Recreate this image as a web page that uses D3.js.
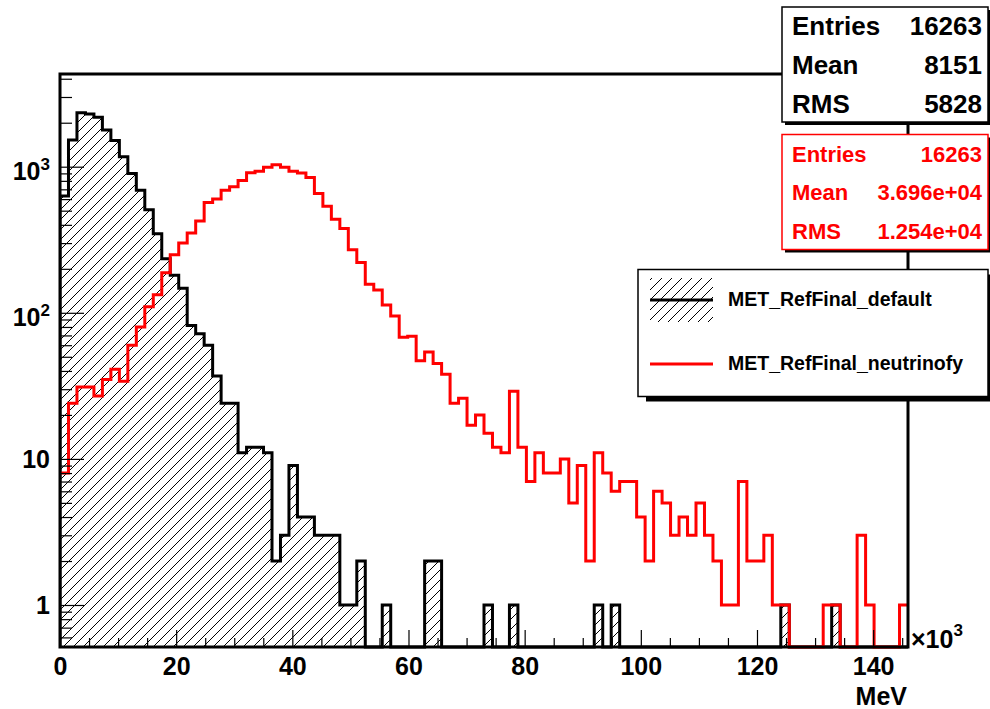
<!DOCTYPE html>
<html>
<head>
<meta charset="utf-8">
<script src="https://cdn.jsdelivr.net/npm/d3@7/dist/d3.min.js"></script>
<style>
    body { margin: 0; background: #fff; }
    text { font-family: "Liberation Sans", Arial, Helvetica, sans-serif; font-weight: bold; }
</style>
</head>
<body>
<script>
//---------------------------------------------------------------------------------------------------//
// data (100 bins from 0 to 146 x10^3 MeV)
let nBins = 100, xLow = 0, xHigh = 146;

let defaultCounts = [
    630, 1524, 2344, 2295, 2178, 1782, 1510, 1170, 900, 690,
    508, 348, 234, 181, 147, 82, 72, 60, 37, 24,
    24, 11, 12, 12, 11, 2, 3, 9, 4, 4,
    3, 3, 3, 1, 1, 2, 0, 0, 1, 0,
    0, 0, 0, 2, 2, 0, 0, 0, 0, 0,
    1, 0, 0, 1, 0, 0, 0, 0, 0, 0,
    0, 0, 0, 1, 0, 1, 0, 0, 0, 0,
    0, 0, 0, 0, 0, 0, 0, 0, 0, 0,
    0, 0, 0, 0, 0, 1, 0, 0, 0, 0,
    0, 1, 0, 0, 0, 0, 0, 0, 0, 0
];

let neutrinofyCounts = [
    8, 24, 31, 31, 27, 35, 41, 34, 60, 80,
    110, 133, 188, 250, 300, 352, 425, 568, 600, 690,
    729, 805, 910, 930, 992, 1030, 992, 930, 905, 845,
    655, 537, 436, 378, 270, 221, 157, 143, 113, 95,
    68, 69, 47, 54, 45, 38, 24, 26, 17, 20,
    15, 12, 11, 29, 12, 7, 11, 8, 8, 10,
    5, 9, 2, 11, 8, 6, 7, 7, 4, 2,
    6, 5, 3, 4, 3, 5, 3, 2, 1, 1,
    7, 2, 2, 3, 1, 1, 0, 0, 0, 0,
    1, 1, 0, 0, 3, 1, 0, 0, 0, 1
];

let xMajorTicks = [0, 20, 40, 60, 80, 100, 120, 140];
let xMinorTicks = [5, 10, 15, 25, 30, 35, 45, 50, 55, 65, 70, 75, 85, 90, 95, 105, 110, 115, 125, 130, 135, 145];
let yMajorTicks = [1, 10, 100, 1000];
let yTickBase = ["1", "10", "10", "10"];
let yTickExp = ["", "", "2", "3"];
let yMinorTicks = [0.6, 0.7, 0.8, 0.9, 2, 3, 4, 5, 6, 7, 8, 9, 20, 30, 40, 50, 60, 70, 80, 90,
                   200, 300, 400, 500, 600, 700, 800, 900, 2000, 3000, 4000];

let statsDefault = [["Entries", "16263"], ["Mean", "8151"], ["RMS", "5828"]];
let statsNeutrinofy = [["Entries", "16263"], ["Mean", "3.696e+04"], ["RMS", "1.254e+04"]];
let legendLabels = ["MET_RefFinal_default", "MET_RefFinal_neutrinofy"];

//---------------------------------------------------------------------------------------------------//
// frame + scales
let width = 990, height = 709;
let frameLeft = 60, frameRight = 908, frameTop = 74, frameBottom = 647;

let svg = d3.select('body').append('svg').attr('width', width).attr('height', height);

let x = d3.scaleLinear().domain([xLow, xHigh]).range([frameLeft, frameRight]);
let y = d3.scaleLog().domain([Math.pow(10, -0.2875), Math.pow(10, 3.6345)]).range([frameBottom, frameTop]);
let yv = v => v > 0 ? y(v) : frameBottom;   // empty bins sit on the axis

let defs = svg.append('defs');
let hatch = defs.append('pattern')
    .attr('id', 'hatch')
    .attr('patternUnits', 'userSpaceOnUse')
    .attr('width', 10)
    .attr('height', 10);
hatch.append('path')
    .attr('d', 'M0,10 L10,0 M-2,2 L2,-2 M8,12 L12,8')
    .attr('stroke', 'black')
    .attr('stroke-width', 1);

defs.append('clipPath').attr('id', 'frameClip')
    .append('rect')
    .attr('x', frameLeft).attr('y', frameTop)
    .attr('width', frameRight - frameLeft).attr('height', frameBottom - frameTop + 2);

//---------------------------------------------------------------------------------------------------//
// histogram step points
let binWidth = (xHigh - xLow) / nBins;
function stepPoints(counts) {
    let pts = [];
    counts.forEach((c, i) => {
        let lo = xLow + i * binWidth;
        pts.push([x(lo), yv(c)], [x(lo + binWidth), yv(c)]);
    });
    return pts;
}

let defaultPts = stepPoints(defaultCounts);
let neutrinofyPts = stepPoints(neutrinofyCounts);

let area = d3.area().x(d => d[0]).y0(frameBottom).y1(d => d[1]);
let line = d3.line().x(d => d[0]).y(d => d[1]);

let plot = svg.append('g').attr('clip-path', 'url(#frameClip)');

plot.append('path')
    .attr('d', area(defaultPts))
    .attr('fill', 'url(#hatch)');

plot.append('path')
    .attr('d', line([[x(xLow), frameBottom]].concat(defaultPts)))
    .attr('fill', 'none')
    .attr('stroke', 'black')
    .attr('stroke-width', 3)
    .attr('stroke-linejoin', 'miter');

// frame
svg.append('rect')
    .attr('x', frameLeft).attr('y', frameTop)
    .attr('width', frameRight - frameLeft).attr('height', frameBottom - frameTop)
    .attr('fill', 'none')
    .attr('stroke', 'black')
    .attr('stroke-width', 3);

//---------------------------------------------------------------------------------------------------//
// axes
let xAxisMajor = d3.axisBottom(x).tickValues(xMajorTicks).tickSize(-17).tickSizeOuter(0).tickPadding(10)
    .tickFormat(d3.format('d'));
let xAxisMinor = d3.axisBottom(x).tickValues(xMinorTicks).tickSize(-9).tickSizeOuter(0).tickFormat('');

let gx = svg.append('g').attr('transform', `translate(0,${frameBottom})`).call(xAxisMajor);
svg.append('g').attr('transform', `translate(0,${frameBottom})`).call(xAxisMinor).select('.domain').remove();
gx.select('.domain').remove();
gx.selectAll('text').style('font-size', '25px').attr('fill', 'black');

let yAxisMajor = d3.axisLeft(y).tickValues(yMajorTicks).tickSize(-24).tickSizeOuter(0).tickFormat('');
let yAxisMinor = d3.axisLeft(y).tickValues(yMinorTicks).tickSize(-12).tickSizeOuter(0).tickFormat('');
svg.append('g').attr('transform', `translate(${frameLeft},0)`).call(yAxisMajor).select('.domain').remove();
svg.append('g').attr('transform', `translate(${frameLeft},0)`).call(yAxisMinor).select('.domain').remove();
svg.selectAll('.tick line').attr('stroke-width', 1.2);

let yLabels = svg.append('g').selectAll('text').data(yMajorTicks).enter().append('text')
    .attr('x', 50)
    .attr('y', (d, i) => y(d) + (yTickExp[i] ? 13 : 9.5))
    .attr('text-anchor', 'end')
    .style('font-size', '25px');
yLabels.append('tspan').text((d, i) => yTickBase[i]);
yLabels.append('tspan')
    .attr('dy', -10)
    .style('font-size', '17px')
    .text((d, i) => yTickExp[i]);

let xMult = svg.append('text').attr('x', 911).attr('y', 648).style('font-size', '25px');
xMult.append('tspan').text('\u00d710');
xMult.append('tspan').attr('dy', -12).style('font-size', '17px').text('3');

svg.append('text')
    .attr('x', 907).attr('y', 705)
    .attr('text-anchor', 'end')
    .style('font-size', '25px')
    .text('MeV');

//---------------------------------------------------------------------------------------------------//
// second histogram on top of the axis
plot.append('path')
    .attr('d', line(neutrinofyPts))
    .attr('fill', 'none')
    .attr('stroke', '#ff0000')
    .attr('stroke-width', 3)
    .attr('stroke-linejoin', 'miter');

//---------------------------------------------------------------------------------------------------//
// stats boxes
function statsBox(rows, bx, by, bw, bh, color, fontSize, baselines) {
    svg.append('rect')
        .attr('x', bx + 3).attr('y', by + 3)
        .attr('width', bw).attr('height', bh)
        .attr('fill', 'black');
    svg.append('rect')
        .attr('x', bx).attr('y', by)
        .attr('width', bw).attr('height', bh)
        .attr('fill', 'white')
        .attr('stroke', color)
        .attr('stroke-width', 1.5);
    rows.forEach((r, i) => {
        svg.append('text').attr('x', bx + 10).attr('y', baselines[i])
            .attr('fill', color).style('font-size', fontSize + 'px').text(r[0]);
        svg.append('text').attr('x', bx + 200).attr('y', baselines[i])
            .attr('text-anchor', 'end')
            .attr('fill', color).style('font-size', fontSize + 'px').text(r[1]);
    });
}

statsBox(statsDefault, 782, 7, 206, 115, 'black', 26, [35, 74, 113]);
statsBox(statsNeutrinofy, 782, 134.5, 206, 115, '#ff0000', 22, [162, 200, 239]);

//---------------------------------------------------------------------------------------------------//
// legend
let lx = 638, ly = 269.5, lw = 350, lh = 127;
svg.append('rect').attr('x', lx + 8).attr('y', ly + 5).attr('width', lw).attr('height', lh).attr('fill', 'black');
svg.append('rect').attr('x', lx).attr('y', ly).attr('width', lw).attr('height', lh)
    .attr('fill', 'white').attr('stroke', 'black').attr('stroke-width', 1.5);

svg.append('rect').attr('x', 650).attr('y', 278).attr('width', 63).attr('height', 44).attr('fill', 'url(#hatch)');
svg.append('line').attr('x1', 650).attr('x2', 713).attr('y1', 300).attr('y2', 300)
    .attr('stroke', 'black').attr('stroke-width', 3);
svg.append('line').attr('x1', 650).attr('x2', 713).attr('y1', 364).attr('y2', 364)
    .attr('stroke', '#ff0000').attr('stroke-width', 3);

svg.selectAll('.legendText').data(legendLabels).enter().append('text')
    .attr('class', 'legendText')
    .attr('x', 728)
    .attr('y', (d, i) => [306, 370][i])
    .style('font-size', '19.5px')
    .text(d => d);
</script>
</body>
</html>
